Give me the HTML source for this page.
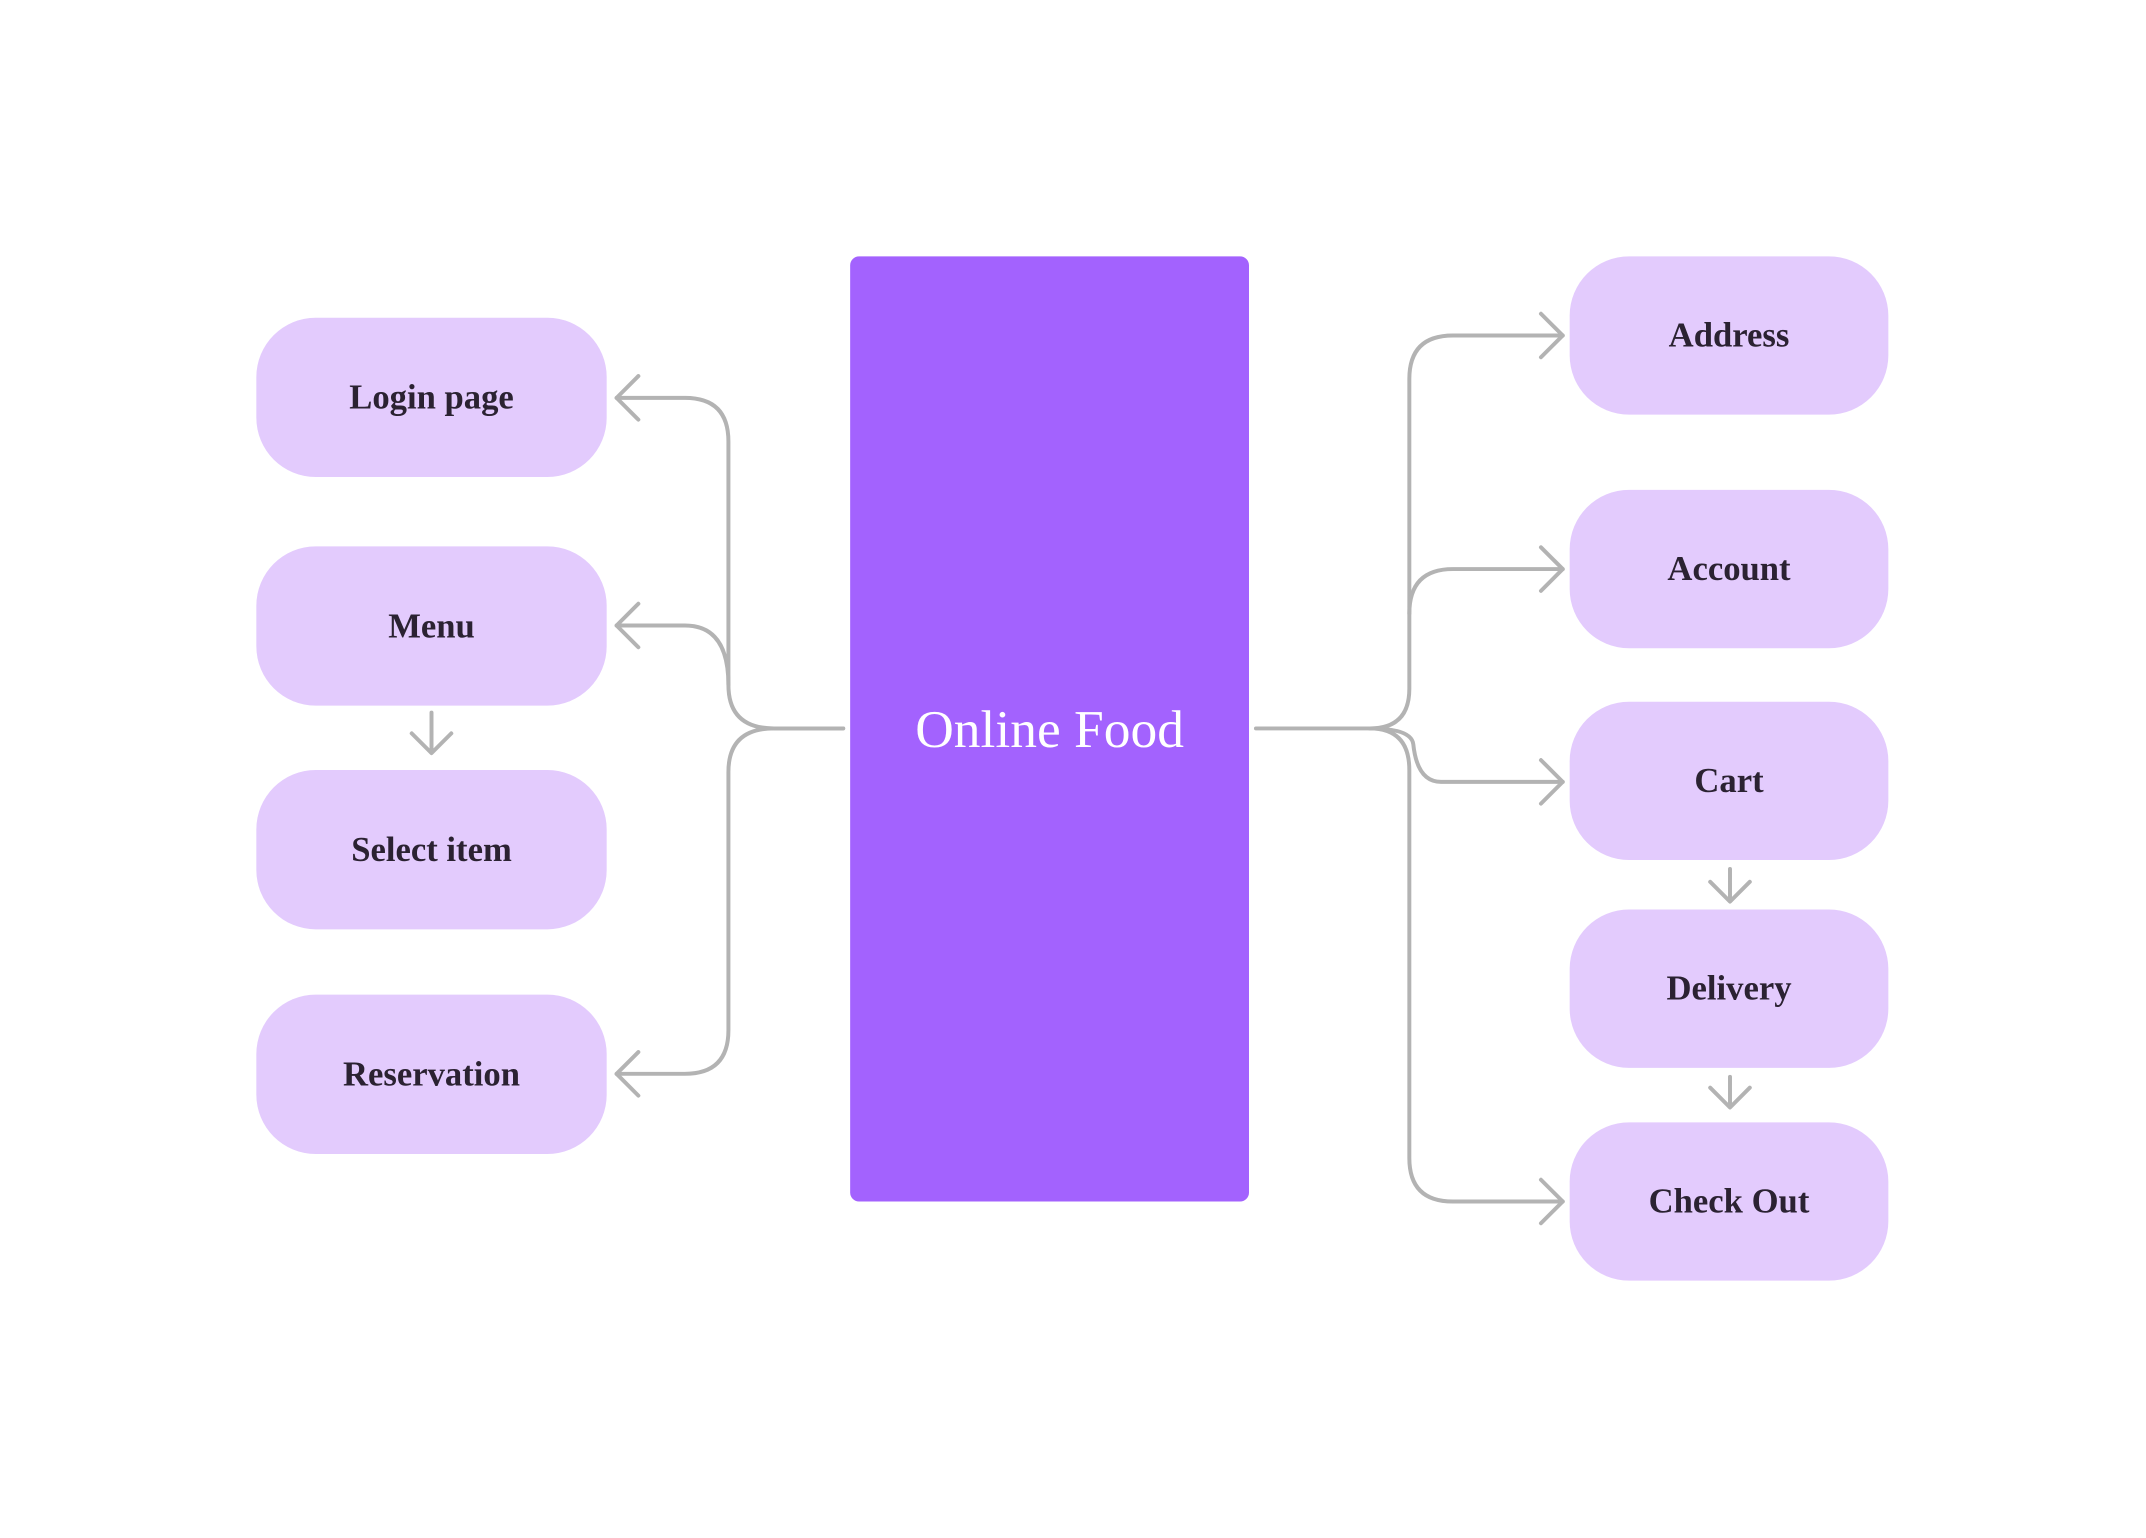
<!DOCTYPE html>
<html><head><meta charset="utf-8"><style>
body{margin:0;width:2146px;height:1538px;background:#fff;position:relative;overflow:hidden;font-family:"Liberation Serif",serif}
#w{position:absolute;left:0;top:0;width:2146px;height:1538px;transform:scale(0.9897);transform-origin:0 0}
.b{position:absolute;background:#e3cbfd;display:flex;align-items:center;justify-content:center;font-weight:bold;font-size:35px;color:#2b2232}
.l{left:259px;width:354px;height:161px;border-radius:60px}
.r{left:1586px;width:322px;height:160px;border-radius:60px}
.c{position:absolute;left:859px;top:259px;width:403px;height:955px;background:#a362fe;border-radius:9px;display:flex;align-items:center;justify-content:center;color:#fff;font-size:54px}
svg{position:absolute;left:0;top:0}
</style></head><body><div id="w">
<svg width="2146" height="1538" fill="none" stroke="#b3b3b3" stroke-width="4" stroke-linecap="round" stroke-linejoin="round">
<path d="M852 736 H782 Q736 736 736 692 V446 Q736 402 692 402 H623"/>
<path d="M736 692 Q736 632 692 632 H623"/>
<path d="M852 736 H782 Q736 736 736 780 V1041 Q736 1085 692 1085 H623"/>
<path d="M645 380 L623 402 L645 424 M645 610 L623 632 L645 654 M645 1063 L623 1085 L645 1107"/>
<path d="M436 720 V760 M416 741 L436 761 L456 741"/>
<path d="M1269 736 H1384 Q1424 736 1424 696 V383 Q1424 339 1468 339 H1579"/>
<path d="M1424 620 Q1424 575 1468 575 H1579"/>
<path d="M1384 736 Q1426 736 1428 752 Q1432 790 1456 790 H1579"/>
<path d="M1384 736 Q1424 736 1424 778 V1170 Q1424 1214 1468 1214 H1579"/>
<path d="M1557 317 L1579 339 L1557 361 M1557 553 L1579 575 L1557 597 M1557 768 L1579 790 L1557 812 M1557 1192 L1579 1214 L1557 1236"/>
<path d="M1748 878 V910 M1728 891 L1748 911 L1768 891 M1748 1088 V1118 M1728 1099 L1748 1119 L1768 1099"/>
</svg>
<div class="b l" style="top:321px">Login page</div>
<div class="b l" style="top:552px">Menu</div>
<div class="b l" style="top:778px">Select item</div>
<div class="b l" style="top:1005px">Reservation</div>
<div class="c">Online Food</div>
<div class="b r" style="top:259px">Address</div>
<div class="b r" style="top:495px">Account</div>
<div class="b r" style="top:709px">Cart</div>
<div class="b r" style="top:919px">Delivery</div>
<div class="b r" style="top:1134px">Check Out</div>
</div></body></html>
